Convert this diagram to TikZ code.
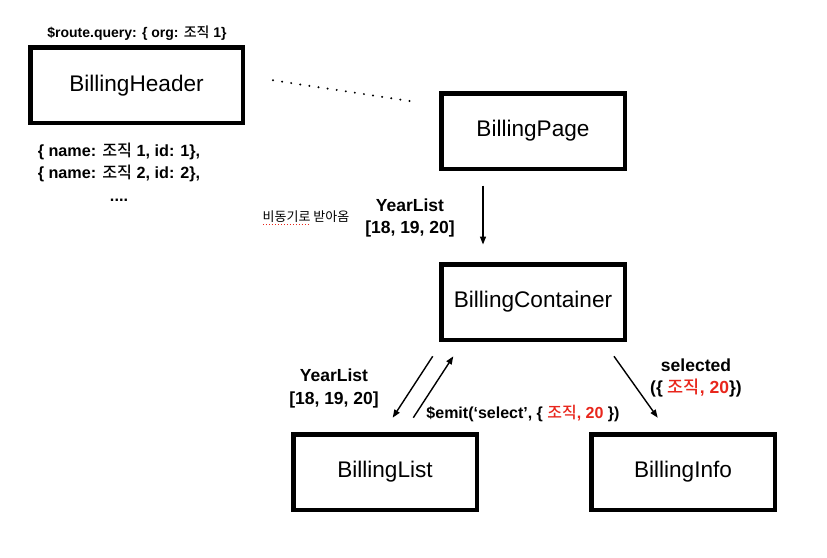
\documentclass[tikz,border=0pt]{standalone}
\usepackage{fontspec}
\setmainfont{Liberation Sans}
\newfontfamily\kr{Noto Sans CJK KR}[BoldFont={Noto Sans CJK KR Medium}]
\usetikzlibrary{positioning, calc, arrows.meta}
\definecolor{hlred}{RGB}{232,38,28}
\newcommand{\red}[1]{\textcolor{hlred}{#1}}

\begin{document}
\begin{tikzpicture}[x=1pt, y=-1pt,
	every node/.style={align=center, inner sep=0pt},
	box/.style={draw, line width=4.5pt, minimum width=183.5pt, minimum height=75.5pt, font=\fontsize{22.6}{26}\selectfont},
	note/.style={font=\bfseries\fontsize{17.5}{22.5}\selectfont},
	small/.style={font=\bfseries\fontsize{14}{17}\selectfont},
	arr/.style={line width=1.4pt, -{Triangle[length=8pt, width=6pt]}},
	dots/.style={line width=2.2pt, line cap=round, dash pattern=on 0pt off 9.2pt}]
			\useasboundingbox (0,0) rectangle (827,557);
			%Boxes
			\node[box, minimum width=212.5pt] (header) at (136.5,85.3) {BillingHeader};
			\node[box] (page) at (533,131) {BillingPage};
			\node[box] (container) at (533,302) {BillingContainer};
			\node[box] (list) at (385,472) {BillingList};
			\node[box] (info) at (683,472) {BillingInfo};
			%Header texts
			\node[small] (query) at (137,33) {\$route.query: \{ org: {\kr 조직} 1\}};
			\node[font=\bfseries\fontsize{16.2}{22.5}\selectfont] (orgs) at (119,172) {\{ name: {\kr 조직} 1, id: 1\},\\ \{ name: {\kr 조직} 2, id: 2\},\\ ....};
			%Async label
			\node[font=\fontsize{13}{15}\selectfont] (async) at (306,216.5) {{\kr 비동기로 받아옴}};
			\draw[hlred, line width=1pt, dash pattern=on 1.5pt off 1.5pt] ($(async.south west)+(0.5,2)$) -- ++(46,0);
			\node[note] (yearsTop) at (410,218) {YearList\\{[}18, 19, 20{]}};
			%Bottom labels
			\node[note] (yearsBot) at (334,388.5) {YearList\\{[}18, 19, 20{]}};
			\node[font=\bfseries\fontsize{16}{20}\selectfont] (emit) at (523,413) {\$emit(‘select’, \{ \red{{\kr 조직}, 20} \})};
			\node[note] (selected) at (696,378) {selected\\(\{ \red{{\kr 조직}, 20}\})};
			%Connectors
			\draw[dots] ($(header.east)+(28,-5)$) -- ($(page.west)+(-23,-29)$);
			\draw[arr] ($(page.south)+(-50,14.5)$) -- ($(container.north)+(-50,-17.5)$);
			\draw[arr] ($(container.south)+(-100.3,14.3)$) -- ($(list.north)+(7.7,-14.3)$);
			\draw[arr] ($(list.north)+(28.3,-14.3)$) -- ($(container.south)+(-79.7,14.3)$);
			\draw[arr] ($(container.south)+(81,14.3)$) -- ($(info.north)+(-25.3,-14.3)$);
		\end{tikzpicture}
\end{document}
